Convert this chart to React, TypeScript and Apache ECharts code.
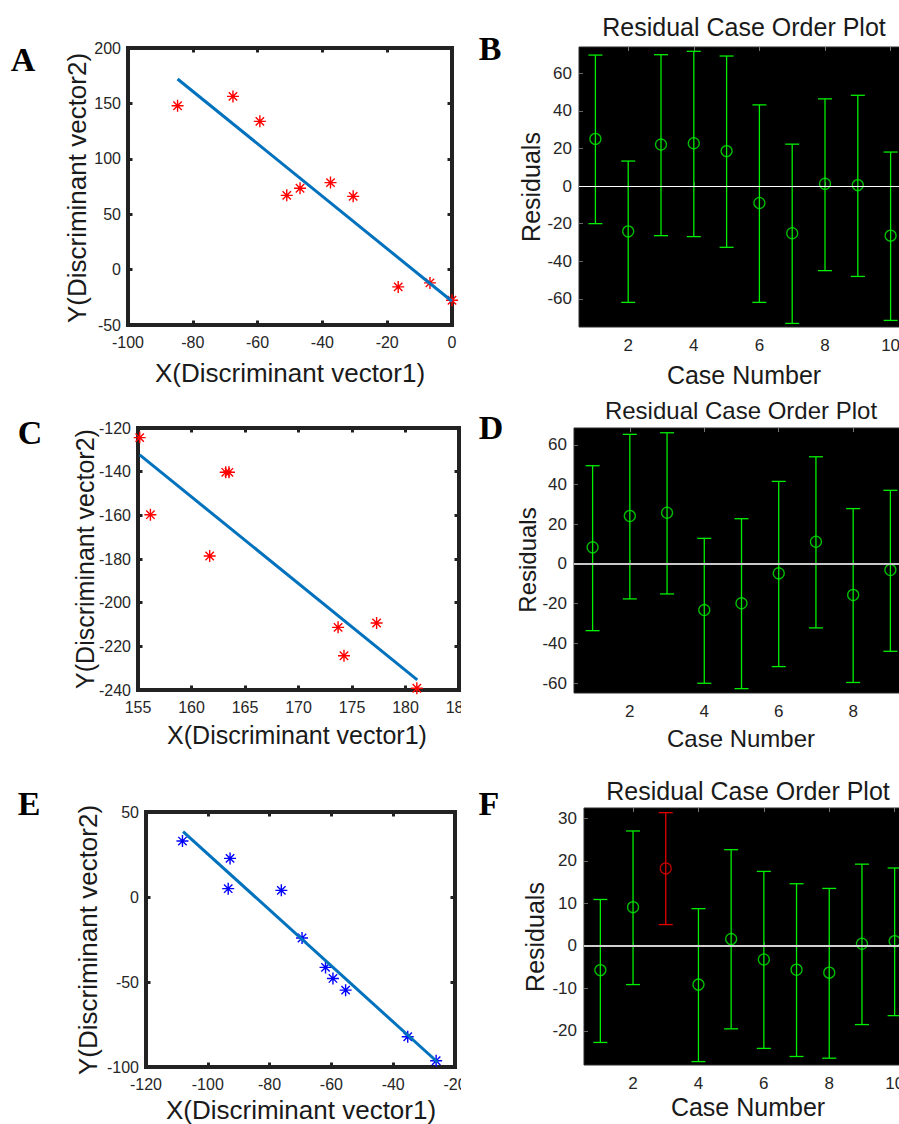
import React, { useEffect, useRef } from "react";
import * as echarts from "echarts";

const FONT = 'Arial, "Liberation Sans", Helvetica, sans-serif';
const SERIF = '"Times New Roman", "Liberation Serif", serif';

// ---------- Panel A (scatter + fit) ----------
const aPoints = [[-84.7, 147.9], [-67.6, 156.3], [-59.3, 133.8], [-51.0, 67.0], [-46.9, 73.4], [-37.5, 78.5], [-30.5, 66.1], [-16.6, -15.6], [-6.8, -12.0], [0, -27.7]];
const aFit = [[-84.7, 172], [0, -28.6]];
const aXRange = [-100, 0, 20];
const aYRange = [-50, 200, 50];

// ---------- Panel C ----------
const cPoints = [[155.16, -124.4], [156.16, -159.7], [161.7, -178.6], [163.2, -140.3], [163.5, -140.3], [173.7, -211.3], [174.25, -224.3], [177.3, -209.3], [181.06, -239.2]];
const cFit = [[155.16, -132.3], [181.1, -235.4]];
const cXRange = [155, 185, 5];
const cYRange = [-240, -120, 20];

// ---------- Panel E ----------
const ePoints = [[-108.2, 32.9], [-92.8, 22.7], [-93.4, 4.9], [-76.2, 3.9], [-69.5, -24.1], [-61.9, -41.4], [-59.5, -47.9], [-55.4, -54.8], [-35.3, -82.2], [-26.1, -96.3]];
const eFit = [[-108, 38.5], [-25.6, -97.2]];
const eXRange = [-120, -20, 20];
const eYRange = [-100, 50, 50];

// ---------- Panel B (residuals) ----------
const bCases = [1, 2, 3, 4, 5, 6, 7, 8, 9, 10];
const bResid = [25.1, -24.1, 22.1, 22.8, 18.6, -9.0, -25.1, 1.2, 0.5, -26.4];
const bLower = [-20.0, -61.9, -26.4, -26.9, -32.6, -61.9, -73.1, -45.0, -48.1, -71.5];
const bUpper = [69.7, 13.3, 69.9, 71.7, 69.2, 43.2, 22.3, 46.4, 48.3, 18.1];
const bXTicks = [2, 4, 6, 8, 10];
const bYTicks = [-60, -40, -20, 0, 20, 40, 60];

// ---------- Panel D ----------
const dCases = [1, 2, 3, 4, 5, 6, 7, 8, 9];
const dResid = [8.4, 24.2, 25.8, -23.2, -19.8, -4.7, 11.2, -15.6, -3.0];
const dLower = [-33.6, -17.6, -15.1, -60.1, -62.8, -51.7, -32.2, -59.7, -44.0];
const dUpper = [49.5, 65.3, 66.1, 12.9, 22.8, 41.6, 54.0, 27.9, 37.1];
const dXTicks = [2, 4, 6, 8];
const dYTicks = [-60, -40, -20, 0, 20, 40, 60];

// ---------- Panel F ----------
const fCases = [1, 2, 3, 4, 5, 6, 7, 8, 9, 10];
const fResid = [-5.7, 9.1, 18.2, -9.1, 1.6, -3.2, -5.6, -6.3, 0.5, 1.1];
const fLower = [-22.7, -9.1, 5.0, -27.2, -19.5, -24.1, -26.0, -26.4, -18.5, -16.4];
const fUpper = [10.9, 27.0, 31.3, 8.75, 22.6, 17.5, 14.6, 13.5, 19.2, 18.3];
const fXTicks = [2, 4, 6, 8, 10];
const fYTicks = [-20, -10, 0, 10, 20, 30];

const ASTERISK = "path://M0 -10 L0 10 M-10 0 L10 0 M-7 -7 L7 7 M-7 7 L7 -7";

function buildOption() {
  const grids: any[] = [];
  const xAxes: any[] = [];
  const yAxes: any[] = [];
  const series: any[] = [];

  function addScatterPanel(rect: number[], xr: number[], yr: number[], pts: number[][], fit: number[][], color: string) {
    const gi = grids.length;
    grids.push({
      left: rect[0], top: rect[1], width: rect[2], height: rect[3], outerBoundsMode: "none",
      show: true, backgroundColor: "transparent", borderColor: "#222222", borderWidth: 4,
    });
    const mkTick = () => ({ show: true, inside: true, length: 4.5, lineStyle: { color: "#222222", width: 3 } });
    const mkLabel = (m: number) => ({ show: true, color: "#262626", fontSize: 16, fontFamily: FONT, margin: m });
    const xi = xAxes.length;
    for (const pos of ["bottom", "top"]) {
      xAxes.push({
        type: "value", gridIndex: gi, min: xr[0], max: xr[1], interval: xr[2], position: pos,
        axisLine: { show: false, onZero: false },
        axisTick: mkTick(),
        axisLabel: pos === "bottom" ? mkLabel(9) : { show: false },
        splitLine: { show: false },
      });
    }
    const yi = yAxes.length;
    for (const pos of ["left", "right"]) {
      yAxes.push({
        type: "value", gridIndex: gi, min: yr[0], max: yr[1], interval: yr[2], position: pos,
        axisLine: { show: false, onZero: false },
        axisTick: mkTick(),
        axisLabel: pos === "left" ? mkLabel(7) : { show: false },
        splitLine: { show: false },
      });
    }
    series.push({
      type: "line", xAxisIndex: xi, yAxisIndex: yi, data: fit, symbol: "none",
      lineStyle: { color: "#0072BD", width: 3 }, silent: true, clip: false,
    });
    series.push({
      type: "scatter", xAxisIndex: xi, yAxisIndex: yi, data: pts, symbol: ASTERISK, symbolSize: 12, clip: false,
      itemStyle: { color: "transparent", borderColor: color, borderWidth: 1.4, opacity: 1 },
    });
  }

  function addResidualPanel(rect: number[], xr: number[], yr: number[], xt: number[], yt: number[], cases: number[], resid: number[], lower: number[], upper: number[], zeroColor: string, zeroWidth: number) {
    const gi = grids.length;
    grids.push({ left: rect[0], top: rect[1], width: rect[2], height: rect[3], show: true, backgroundColor: "#000", borderColor: "#2a2a2a", borderWidth: 1, outerBoundsMode: "none" });
    const label = { color: "#262626", fontSize: 17, fontFamily: FONT };
    const xi = xAxes.length;
    xAxes.push({
      type: "value", gridIndex: gi, min: xr[0], max: xr[1], position: "bottom",
      axisLine: { show: false },
      axisTick: { show: true, inside: true, length: 4, customValues: xt, lineStyle: { color: "#666" } },
      axisLabel: { ...label, margin: 10, customValues: xt },
      splitLine: { show: false },
    });
    xAxes.push({
      type: "value", gridIndex: gi, min: xr[0], max: xr[1], position: "top",
      axisLine: { show: false },
      axisTick: { show: true, inside: true, length: 4, customValues: xt, lineStyle: { color: "#777" } },
      axisLabel: { show: false, customValues: xt },
      splitLine: { show: false },
    });
    const yi = yAxes.length;
    yAxes.push({
      type: "value", gridIndex: gi, min: yr[0], max: yr[1], position: "left",
      axisLine: { show: false },
      axisTick: { show: true, inside: true, length: 4, customValues: yt, lineStyle: { color: "#666" } },
      axisLabel: { ...label, margin: 7, customValues: yt },
      splitLine: { show: false },
    });
    const barData = cases.map((c, i) => [c, lower[i], upper[i]]);
    const isOut = (i: number) => lower[i] > 0 || upper[i] < 0;
    series.push({
      type: "custom", xAxisIndex: xi, yAxisIndex: yi, data: barData, clip: false, silent: true,
      renderItem: (params: any, api: any) => {
        const x = api.value(0);
        const lo = api.coord([x, api.value(1)]);
        const hi = api.coord([x, api.value(2)]);
        const color = isOut(params.dataIndex) ? "#e00000" : "#00ee00";
        const st = { stroke: color, lineWidth: 1.3 };
        const w = 7;
        return {
          type: "group",
          children: [
            { type: "line", shape: { x1: lo[0], y1: lo[1], x2: hi[0], y2: hi[1] }, style: st },
            { type: "line", shape: { x1: lo[0] - w, y1: lo[1], x2: lo[0] + w, y2: lo[1] }, style: st },
            { type: "line", shape: { x1: hi[0] - w, y1: hi[1], x2: hi[0] + w, y2: hi[1] }, style: st },
          ],
        };
      },
    });
    series.push({
      type: "scatter", xAxisIndex: xi, yAxisIndex: yi, clip: false, symbol: "circle", symbolSize: 11,
      data: cases.map((c, i) => ({
        value: [c, resid[i]],
        itemStyle: { color: "transparent", borderColor: isOut(i) ? "#e00000" : "#00ee00", borderWidth: 1.3 },
      })),
      markLine: {
        silent: true, symbol: "none", label: { show: false },
        lineStyle: { color: zeroColor, width: zeroWidth, type: "solid" },
        data: [{ yAxis: 0 }],
      },
      z: 3,
    });
  }

  addScatterPanel([128, 48, 324, 277], aXRange, aYRange, aPoints, aFit, "#ff0000");
  addResidualPanel([579, 47, 328, 280], [0.5, 10.5], [-75, 74], bXTicks, bYTicks, bCases, bResid, bLower, bUpper, "#ffffff", 1.2);
  addScatterPanel([138, 428, 321, 262], cXRange, cYRange, cPoints, cFit, "#ff0000");
  addResidualPanel([574, 428, 335, 265], [0.5, 9.5], [-65, 68.5], dXTicks, dYTicks, dCases, dResid, dLower, dUpper, "#c8c8c8", 2);
  addScatterPanel([146, 812, 309, 255], eXRange, eYRange, ePoints, eFit, "#0000ff");
  addResidualPanel([584, 808, 327, 257], [0.5, 10.5], [-28, 32.4], fXTicks, fYTicks, fCases, fResid, fLower, fUpper, "#d0d0d0", 2);

  const letter = (t: string, x: number, y: number) => ({
    type: "text", x, y, z: 50,
    style: { text: t, fontFamily: SERIF, fontWeight: "bold", fontSize: 34, fill: "#000", align: "center", verticalAlign: "middle" },
  });
  const txt = (t: string, x: number, y: number, size: number, vertical?: boolean) => ({
    type: "text", x, y, z: 50, rotation: vertical ? Math.PI / 2 : 0,
    style: { text: t, fontFamily: FONT, fontSize: size, fill: "#1a1a1a", align: "center", verticalAlign: "middle" },
  });

  const graphic = [
    { type: "rect", shape: { x: 461, y: 400, width: 17, height: 362 }, style: { fill: "#fff" }, z: 40 },
    { type: "rect", shape: { x: 461, y: 770, width: 17, height: 354 }, style: { fill: "#fff" }, z: 40 },
    letter("A", 23, 59), letter("B", 490, 48), letter("C", 30, 432),
    letter("D", 491, 427), letter("E", 29, 803), letter("F", 489, 803),
    txt("Y(Discriminant vector2)", 77, 188, 26, true),
    txt("X(Discriminant vector1)", 290, 373, 26),
    txt("Residual Case Order Plot", 744, 27, 25),
    txt("Residuals", 531, 187, 25, true),
    txt("Case Number", 744, 375, 25),
    txt("Y(Discriminant vector2)", 85, 559, 25, true),
    txt("X(Discriminant vector1)", 297, 735, 25),
    txt("Residual Case Order Plot", 741, 410, 24),
    txt("Residuals", 527, 560, 24, true),
    txt("Case Number", 741, 738, 24),
    txt("Y(Discriminant vector2)", 88, 940, 26, true),
    txt("X(Discriminant vector1)", 301, 1110, 26),
    txt("Residual Case Order Plot", 748, 791, 25),
    txt("Residuals", 535, 937, 25, true),
    txt("Case Number", 748, 1107, 25),
  ];

  return {
    animation: false,
    backgroundColor: "#ffffff",
    textStyle: { fontFamily: FONT },
    grid: grids,
    xAxis: xAxes,
    yAxis: yAxes,
    series,
    graphic,
  };
}

export default function App() {
  const ref = useRef<HTMLDivElement>(null);
  useEffect(() => {
    if (!ref.current) return;
    const chart = echarts.init(ref.current, null, { renderer: "svg" });
    chart.setOption(buildOption() as any);
    return () => chart.dispose();
  }, []);
  return (
    <div
      ref={ref}
      style={{ position: "absolute", left: 0, top: 0, width: 899, height: 1124, overflow: "hidden", background: "#fff" }}
    />
  );
}
